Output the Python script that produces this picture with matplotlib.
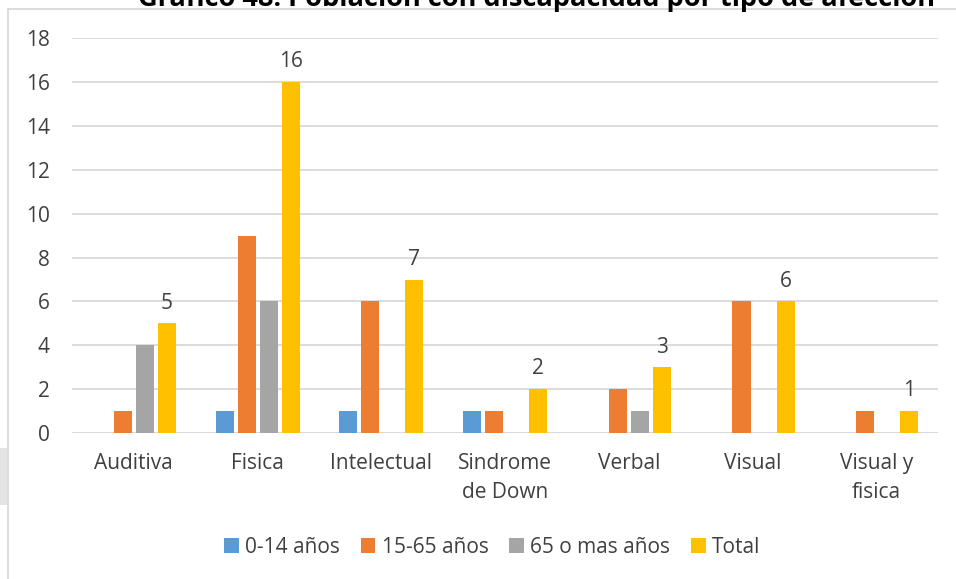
import matplotlib.pyplot as plt
import numpy as np
from matplotlib.patches import Patch, Rectangle
from matplotlib.lines import Line2D

plt.rcParams["font.family"] = ["Open Sans", "DejaVu Sans"]

categories = ["Auditiva", "Fisica", "Intelectual", "Sindrome\nde Down",
              "Verbal", "Visual", "Visual y\nfisica"]
series_names = ["0-14 años", "15-65 años", "65 o mas años", "Total"]
ninos = [0, 1, 1, 1, 0, 0, 0]
adultos = [1, 9, 6, 1, 2, 6, 1]
mayores = [4, 6, 0, 0, 1, 0, 0]
total = [5, 16, 7, 2, 3, 6, 1]
y_ticks = [0, 2, 4, 6, 8, 10, 12, 14, 16, 18]

colors = ["#5B9BD5", "#ED7D31", "#A5A5A5", "#FFC000"]
text_color = "#404040"
grid_color = "#D9D9D9"
fs = 15

fig = plt.figure(figsize=(9.56, 5.79), dpi=100)
ax = fig.add_axes([0.0753, 0.252, 0.906, 0.682])

x = np.arange(len(categories))
step = 0.178
width = 0.146
for i, (vals, col) in enumerate(zip([ninos, adultos, mayores, total], colors)):
    bars = ax.bar(x + (i - 1.5) * step, vals, width, color=col, zorder=3,
                  label=series_names[i])
    if i == 3:
        for b, v in zip(bars, vals):
            ax.annotate(str(v), (b.get_x() + b.get_width() / 2, v),
                        xytext=(0, 7), textcoords="offset points",
                        ha="center", va="bottom", fontsize=fs, color=text_color)

ax.set_xlim(-0.5, len(categories) - 0.5)
ax.set_ylim(0, 18)
ax.set_yticks(y_ticks)
ax.set_xticks(x)
ax.set_xticklabels(categories, fontsize=fs, color=text_color, linespacing=1.5)
ax.tick_params(axis="y", labelsize=fs, labelcolor=text_color, length=0, pad=16)
ax.tick_params(axis="x", length=0, pad=14)
ax.grid(axis="y", color=grid_color, linewidth=1.3, zorder=0)
for s in ax.spines.values():
    s.set_visible(False)
ax.axhline(0, color=grid_color, linewidth=1.3, zorder=2)

handles = [Patch(facecolor=c, edgecolor="none") for c in colors]
fig.legend(handles, series_names, loc="center", bbox_to_anchor=(0.515, 0.055),
           ncol=4, frameon=False, fontsize=fs, labelcolor=text_color,
           handlelength=0.7, handleheight=0.7, handletextpad=0.3,
           columnspacing=1.0)

# chart frame (left and top edges) and title cut at the top
fig.add_artist(Line2D([8 / 956, 8 / 956], [0, 1 - 9 / 579],
                      color=grid_color, linewidth=1.3))
fig.add_artist(Line2D([8 / 956, 1], [1 - 9 / 579, 1 - 9 / 579],
                      color=grid_color, linewidth=1.3))
fig.add_artist(Rectangle((0, 1 - 505 / 579), 7 / 956, 57 / 579,
                         transform=fig.transFigure, facecolor="#E4E4E4",
                         edgecolor="none"))
fig.text(537 / 956, 1 - 6 / 579,
         "Gráfico 48: Población con discapacidad por tipo de afección",
         ha="center", va="baseline", fontsize=19.5, fontweight="bold",
         color="black")

fig.savefig("out.png", dpi=100)
